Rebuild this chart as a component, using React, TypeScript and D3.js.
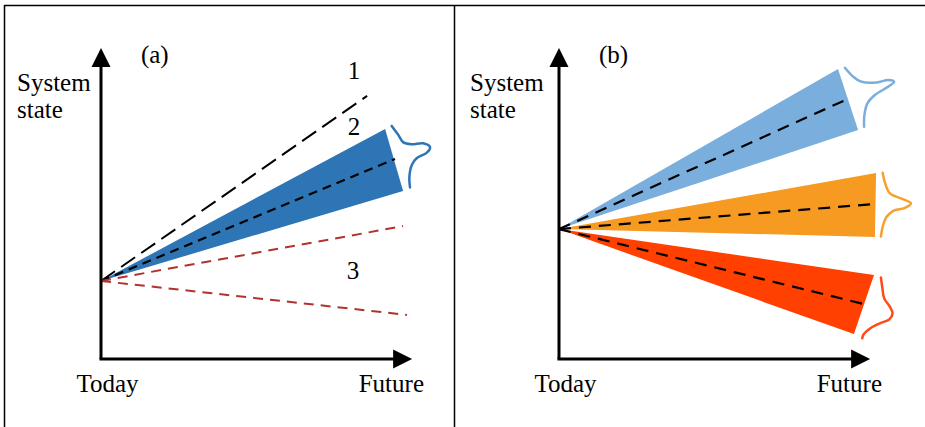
import React from "react";
import * as d3 from "d3";

// ---- data (data units: x = time 0..100, y = system state 0..100) ----
const panelLabels = ["(a)", "(b)"];
const axisLabelsY = ["System", "state"];
const axisLabelsX = ["Today", "Future"];

// Panel (a)
const originA = [0, 26];
const line1End = [88.7, 87.7];
const blueFanA = { upper: [94.7, 76.7], center: [98, 66.7], lower: [100.7, 56] };
const redLinesEnd = [[100.7, 44.3], [102, 14.7]];
const scenarioLabels = [
  { text: "1", x: 84.3, y: 93.3 },
  { text: "2", x: 84.3, y: 74.7 },
  { text: "3", x: 84, y: 26.7 },
];
const blueCurveA = [[96.9, 77.7], [99.1, 74.7], [100.8, 72.2], [103.6, 71.6], [107.4, 71.9], [109.7, 70.6], [108.6, 68.8], [105.2, 66.9], [103.6, 64.7], [102.8, 60.8], [103, 57.2]];

// Panel (b)
const originB = [0, 43.3];
const fansB = [
  { upper: [93, 96.7], center: [96.3, 86.7], lower: [99.7, 76.3] },
  { upper: [105.7, 62], center: [105.7, 51.7], lower: [105.3, 40.7] },
  { upper: [105, 28], center: [101.7, 18.3], lower: [98.3, 8.3] },
];
const curvesB = [
  [[95.3, 97.1], [98.1, 94.1], [100.9, 92.4], [105.9, 92.2], [109.8, 93], [111.7, 92.4], [109.8, 90.8], [105.3, 88], [102.8, 85.2], [101.8, 81.3], [101.7, 77.4]],
  [[107.9, 62.1], [108.7, 58.6], [110.3, 55.2], [114.8, 53.2], [117.3, 51.9], [115.3, 50.4], [111.4, 49.4], [109.2, 47.4], [107.9, 44.1], [107.3, 40.8]],
  [[107.3, 27.2], [107.8, 23.6], [108.4, 20.2], [110.3, 17.4], [111.2, 15.2], [110.1, 13.2], [107, 11.9], [103.7, 10.2], [101.4, 8], [101.1, 6.9]],
];
const fanColorsB = ["#7aaedc", "#f79a22", "#ff4000"];
const curveColorsB = ["#7aaedc", "#f7a030", "#ff4a1a"];

const W = 925;
const H = 427;
const FONT = "Liberation Serif, Times New Roman, DejaVu Serif, serif";
const FS = 25;

function Axes({ xs, ys }: { xs: any; ys: any }) {
  const x0 = xs(0);
  const y0 = ys(0);
  const yTop = ys(103.7);
  const xEnd = xs(103.7);
  return (
    <g>
      <line x1={x0} y1={y0} x2={x0} y2={yTop + 14} stroke="#000" strokeWidth={3} />
      <line x1={x0 - 1.5} y1={y0} x2={xEnd - 14} y2={y0} stroke="#000" strokeWidth={3} />
      <path d={`M${x0},${yTop} L${x0 - 9.5},${yTop + 19} L${x0 + 9.5},${yTop + 19} Z`} fill="#000" />
      <path d={`M${xEnd},${y0} L${xEnd - 19},${y0 - 9.5} L${xEnd - 19},${y0 + 9.5} Z`} fill="#000" />
    </g>
  );
}

function Labels({ xs, panel, sysX }: { xs: any; panel: string; sysX: number }) {
  return (
    <g style={{ fontFamily: FONT, fontSize: FS }} fill="#000">
      <text x={sysX} y={91}>{axisLabelsY[0]}</text>
      <text x={sysX} y={118}>{axisLabelsY[1]}</text>
      <text x={xs(0)} y={392} textAnchor="middle" dx={6.5}>{axisLabelsX[0]}</text>
      <text x={xs(100)} y={392} textAnchor="end" dx={23}>{axisLabelsX[1]}</text>
      <text x={xs(13.3)} y={63}>{panel}</text>
    </g>
  );
}

export default function App() {
  const ysA = d3.scaleLinear().domain([0, 100]).range([359, 59]);
  const xsA = d3.scaleLinear().domain([0, 100]).range([101, 401]);
  const xsB = d3.scaleLinear().domain([0, 100]).range([559, 859]);
  const ysB = ysA;

  const lineA = d3.line<number[]>().x((d) => xsA(d[0])).y((d) => ysA(d[1]));
  const lineB = d3.line<number[]>().x((d) => xsB(d[0])).y((d) => ysB(d[1]));
  const curveA = d3.line<number[]>().x((d) => xsA(d[0])).y((d) => ysA(d[1])).curve(d3.curveCatmullRom);
  const curveB = d3.line<number[]>().x((d) => xsB(d[0])).y((d) => ysB(d[1])).curve(d3.curveCatmullRom);

  return (
    <svg width={W} height={H} style={{ position: "absolute", left: 0, top: 0, background: "#fff" }}>
      <rect x={0} y={0} width={W} height={H} fill="#fff" />
      {/* frame */}
      <line x1={4} y1={5.5} x2={W} y2={5.5} stroke="#000" strokeWidth={1.5} />
      <line x1={4.5} y1={5} x2={4.5} y2={H} stroke="#000" strokeWidth={1.5} />
      <line x1={454.5} y1={5} x2={454.5} y2={H} stroke="#000" strokeWidth={1.5} />

      {/* Panel (a) */}
      <path d={lineA([originA, blueFanA.upper, blueFanA.lower])!} fill="#2e75b6" />
      <path d={lineA([originA, line1End])!} stroke="#000" strokeWidth={2} strokeDasharray="17 7.5" fill="none" />
      <path d={lineA([originA, blueFanA.center])!} stroke="#000" strokeWidth={2.2} strokeDasharray="9 6" fill="none" />
      {redLinesEnd.map((e, i) => (
        <path key={i} d={lineA([originA, e])!} stroke="#b0332f" strokeWidth={2} strokeDasharray="10 7" fill="none" />
      ))}
      <path d={curveA(blueCurveA)!} stroke="#2e75b6" strokeWidth={2.5} fill="none" strokeLinecap="round" />
      <g style={{ fontFamily: FONT, fontSize: FS }} textAnchor="middle">
        {scenarioLabels.map((l) => (
          <text key={l.text} x={xsA(l.x)} y={ysA(l.y)}>{l.text}</text>
        ))}
      </g>
      <Axes xs={xsA} ys={ysA} />
      <Labels xs={xsA} panel={panelLabels[0]} sysX={17} />

      {/* Panel (b) */}
      {fansB.map((f, i) => (
        <path key={"f" + i} d={lineB([originB, f.upper, f.lower])!} fill={fanColorsB[i]} />
      ))}
      {fansB.map((f, i) => (
        <path key={"c" + i} d={lineB([originB, f.center])!} stroke="#000" strokeWidth={2.2} strokeDasharray="12 8" fill="none" />
      ))}
      {curvesB.map((c, i) => (
        <path key={"d" + i} d={curveB(c)!} stroke={curveColorsB[i]} strokeWidth={2.5} fill="none" strokeLinecap="round" />
      ))}
      <Axes xs={xsB} ys={ysB} />
      <Labels xs={xsB} panel={panelLabels[1]} sysX={470} />
    </svg>
  );
}
